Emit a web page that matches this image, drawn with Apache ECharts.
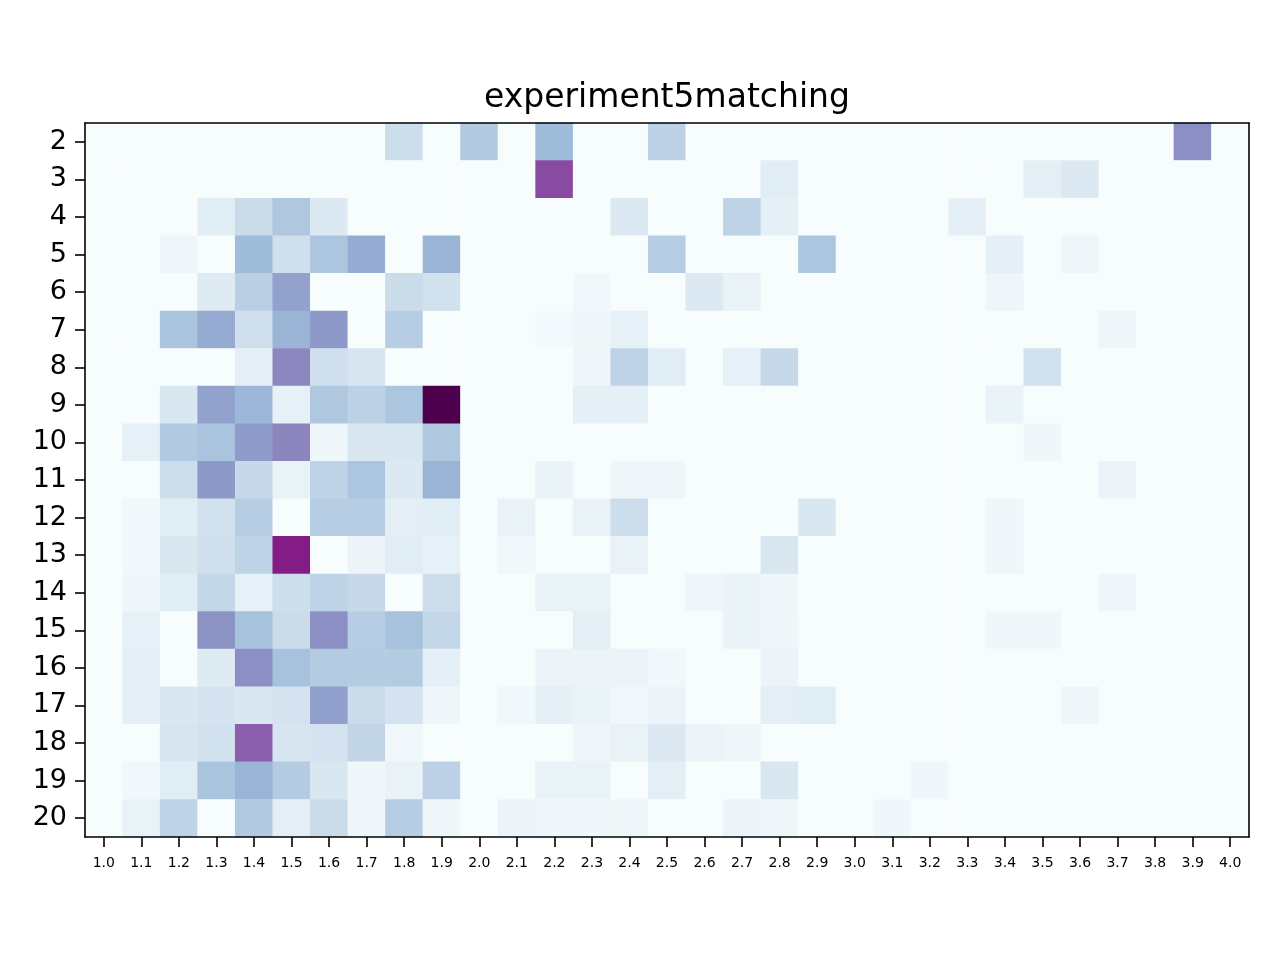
<!DOCTYPE html>
<html><head><meta charset="utf-8">
<script src="https://cdn.jsdelivr.net/npm/echarts@6/dist/echarts.min.js"></script>
<style>html,body{margin:0;padding:0;background:#fff}#c{width:1280px;height:960px}</style>
</head><body><div id="c"></div>
<script>
const xLabels = ['1.0','1.1','1.2','1.3','1.4','1.5','1.6','1.7','1.8','1.9','2.0','2.1','2.2','2.3','2.4','2.5','2.6','2.7','2.8','2.9','3.0','3.1','3.2','3.3','3.4','3.5','3.6','3.7','3.8','3.9','4.0'];
const yLabels = ['2','3','4','5','6','7','8','9','10','11','12','13','14','15','16','17','18','19','20'];

const r02 = [0,0,0,0,0,0,0,0,20,0, 30,0,37,0,0,26,0,0,0,0, 0,0,0,0,0,0,0,0,0,52, 0];
const r03 = [0,0,0,0,0,0,0,0,0,0, 0,0,72,0,0,0,0,0,12,0, 0,0,0,0,0,11,14,0,0,0, 0];
const r04 = [0,0,0,12,21,31,14,0,0,0, 0,0,0,0,14,0,0,25,10,0, 0,0,0,10,0,0,0,0,0,0, 0];
const r05 = [0,0,5,0,37,19,32,43,0,40, 0,0,0,0,0,28,0,0,0,32, 0,0,0,0,10,0,5,0,0,0, 0];
const r06 = [0,0,0,13,27,46,0,0,21,18, 0,0,0,3,0,0,14,8,0,0, 0,0,0,0,5,0,0,0,0,0, 0];
const r07 = [0,0,33,43,19,40,49,0,28,0, 0,0,2,4,9,0,0,0,0,0, 0,0,0,0,0,0,0,5,0,0, 0];
const r08 = [0,0,0,0,10,54,19,16,0,0, 0,0,0,5,25,12,0,9,22,0, 0,0,0,0,0,18,0,0,0,0, 0];
const r09 = [0,0,15,46,39,9,31,26,32,100, 0,0,0,10,10,0,0,0,0,0, 0,0,0,0,7,0,0,0,0,0, 0];
const r10 = [0,9,30,33,48,55,4,15,15,31, 0,0,0,0,0,0,0,0,0,0, 0,0,0,0,0,4,0,0,0,0, 0];
const r11 = [0,0,20,49,22,8,25,32,14,40, 0,0,7,0,5,5,0,0,0,0, 0,0,0,0,0,0,0,6,0,0, 0];
const r12 = [0,3,12,18,28,0,28,28,11,12, 0,8,0,8,20,0,0,0,0,15, 0,0,0,0,4,0,0,0,0,0, 0];
const r13 = [0,3,15,19,25,84,0,6,12,9, 0,3,0,0,8,0,0,0,15,0, 0,0,0,0,4,0,0,0,0,0, 0];
const r14 = [0,4,12,23,9,20,25,22,0,20, 0,0,8,8,0,0,5,7,5,0, 0,0,0,0,0,0,0,5,0,0, 0];
const r15 = [0,9,0,51,34,21,52,28,34,23, 0,0,0,11,0,0,0,7,4,0, 0,0,0,0,4,4,0,0,0,0, 0];
const r16 = [0,10,0,13,52,34,29,29,29,10, 0,0,6,6,6,3,0,0,6,0, 0,0,0,0,0,0,0,0,0,0, 0];
const r17 = [0,10,15,17,15,17,47,21,17,5, 0,3,10,7,3,6,0,0,11,12, 0,0,0,0,0,0,5,0,0,0, 0];
const r18 = [0,0,16,18,66,16,17,24,3,0, 0,0,0,5,8,14,6,5,0,0, 0,0,0,0,0,0,0,0,0,0, 0];
const r19 = [0,3,12,33,40,29,15,4,8,26, 0,0,8,8,0,11,0,0,15,0, 0,0,4,0,0,0,0,0,0,0, 0];
const r20 = [0,8,25,0,30,11,21,5,28,4, 0,6,4,4,5,0,0,6,5,0, 0,4,0,0,0,0,0,0,0,0, 0];
const rows = [r02,r03,r04,r05,r06,r07,r08,r09,r10,r11,r12,r13,r14,r15,r16,r17,r18,r19,r20];

const bupu = ['#f7fcfd','#e0ecf4','#bfd3e6','#9ebcda','#8c96c6','#8c6bb1','#88419d','#810f7c','#4d004b'];

const cells = [];
rows.forEach((row, yi) => row.forEach((v, xi) => cells.push([xi, yi, v])));

const chart = echarts.init(document.getElementById('c'), null, {renderer: 'canvas'});
const font = 'DejaVu Sans';
chart.setOption({
  animation: false,
  backgroundColor: '#ffffff',
  title: {
    text: 'experiment5matching',
    left: 479, top: 77,
    textStyle: {fontFamily: font, fontSize: 33, fontWeight: 'normal', color: '#000'}
  },
  grid: {left: 85, right: 31, top: 123, bottom: 123, containLabel: false},
  visualMap: {show: false, min: 0, max: 100, dimension: 2, inRange: {color: bupu}},
  xAxis: [
    {type: 'category', data: xLabels, position: 'bottom', z: 10,
     axisLine: {show: true, lineStyle: {color: '#000', width: 1.6}},
     axisTick: {show: true, alignWithLabel: true, length: 10, lineStyle: {color: '#000', width: 1.6}},
     axisLabel: {fontFamily: font, fontSize: 14, color: '#000', margin: 19, interval: 0},
     splitLine: {show: false}},
    {type: 'category', data: xLabels, position: 'top', z: 10,
     axisLine: {show: true, onZero: false, lineStyle: {color: '#000', width: 1.6}},
     axisTick: {show: false}, axisLabel: {show: false}, splitLine: {show: false}}
  ],
  yAxis: [
    {type: 'category', data: yLabels, inverse: true, position: 'left', z: 10,
     axisLine: {show: true, lineStyle: {color: '#000', width: 1.6}},
     axisTick: {show: true, alignWithLabel: true, length: 10, lineStyle: {color: '#000', width: 1.6}},
     axisLabel: {fontFamily: font, fontSize: 27, color: '#000', margin: 18, interval: 0, padding: [6, 0, 0, 0]},
     splitLine: {show: false}},
    {type: 'category', data: yLabels, inverse: true, position: 'right', z: 10,
     axisLine: {show: true, onZero: false, lineStyle: {color: '#000', width: 1.6}},
     axisTick: {show: false}, axisLabel: {show: false}, splitLine: {show: false}}
  ],
  series: [{
    type: 'heatmap', xAxisIndex: 0, yAxisIndex: 0, data: cells,
    itemStyle: {borderWidth: 0},
    emphasis: {disabled: true}, progressive: 0
  }]
});
</script>
</body></html>
